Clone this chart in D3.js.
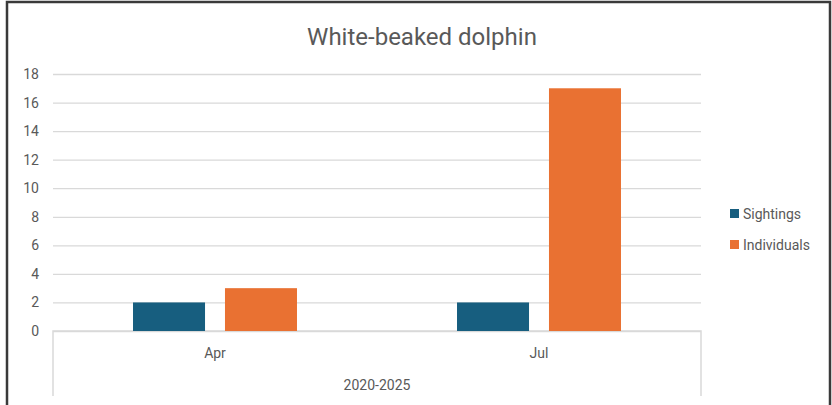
<!DOCTYPE html>
<html>
<head>
<meta charset="utf-8">
<script src="https://cdn.jsdelivr.net/npm/d3@7"></script>
<style>
  body { margin: 0; background: #fff; }
  text { font-family: Roboto, "Open Sans", sans-serif; fill: #595959; }
</style>
</head>
<body>
<div class="chart"></div>
<script>
const months = ["Apr", "Jul"];
const series = ["Sightings", "Individuals"];
const sightings = [2, 2];
const individuals = [3, 17];
const yTicks = [0, 2, 4, 6, 8, 10, 12, 14, 16, 18];
const groupLabel = "2020-2025";
const colors = ["#175e7f", "#e97132"];

const width = 832, height = 405;
const margin = ({top: 74, right: 131, bottom: 74, left: 53});

const svg = d3.select(".chart")
  .append("svg")
  .attr("width", width)
  .attr("height", height);

// outer frame
svg.append("rect")
  .attr("x", 7).attr("y", 2)
  .attr("width", 823).attr("height", 420)
  .attr("fill", "none")
  .attr("stroke", "#3a3a3a")
  .attr("stroke-width", 2.5);

const data = months.map((m, i) => ({month: m, values: [sightings[i], individuals[i]]}));

const xScale = d3.scaleBand()
  .domain(months)
  .range([margin.left, width - margin.right]);

const xInner = d3.scaleBand()
  .domain(series)
  .range([0, xScale.bandwidth()])
  .paddingInner(0.217)
  .paddingOuter(0.87);

const yScale = d3.scaleLinear()
  .domain([0, 18])
  .range([height - margin.bottom, margin.top]);

const yAxis = d3.axisLeft(yScale)
  .tickValues(yTicks)
  .tickSize(0)
  .tickPadding(14);

const yg = svg.append("g")
  .attr("transform", `translate(${margin.left},0)`)
  .call(yAxis);
yg.select(".domain").remove();
yg.selectAll(".tick text").attr("font-size", 14).attr("fill", "#595959");
yg.selectAll(".tick line")
  .clone()
  .attr("x2", width - margin.right - margin.left)
  .attr("stroke", "#d9d9d9")
  .attr("stroke-width", 1.3);

// category axis box
const x0 = margin.left, x1 = width - margin.right, y0 = yScale(0);
svg.append("path")
  .attr("d", `M${x0},${height - 9}V${y0}H${x1}V${height - 9}`)
  .attr("fill", "none")
  .attr("stroke", "#d9d9d9")
  .attr("stroke-width", 1.5);

svg.append("g")
  .selectAll("g")
  .data(data)
  .join("g")
  .attr("transform", d => `translate(${xScale(d.month)},0)`)
  .selectAll("rect")
  .data(d => d.values.map((v, i) => ({key: series[i], value: v, i})))
  .join("rect")
  .attr("x", d => xInner(d.key))
  .attr("width", xInner.bandwidth())
  .attr("y", d => yScale(d.value))
  .attr("height", d => yScale(0) - yScale(d.value))
  .attr("fill", d => colors[d.i]);

svg.append("g")
  .selectAll("text")
  .data(months)
  .join("text")
  .attr("x", d => xScale(d) + xScale.bandwidth() / 2)
  .attr("y", 358)
  .attr("text-anchor", "middle")
  .attr("font-size", 14)
  .text(d => d);

svg.append("text")
  .attr("x", (x0 + x1) / 2)
  .attr("y", 390)
  .attr("text-anchor", "middle")
  .attr("font-size", 14)
  .text(groupLabel);

svg.append("text")
  .attr("x", 422)
  .attr("y", 45)
  .attr("text-anchor", "middle")
  .attr("font-size", 24)
  .text("White-beaked dolphin");

const legend = svg.append("g")
  .selectAll("g")
  .data(series)
  .join("g")
  .attr("transform", (d, i) => `translate(730,${214 + i * 31})`);
legend.append("rect")
  .attr("x", 0).attr("y", -5)
  .attr("width", 9).attr("height", 9)
  .attr("fill", (d, i) => colors[i]);
legend.append("text")
  .attr("x", 13)
  .attr("y", 0)
  .attr("dy", "0.35em")
  .attr("font-size", 14)
  .text(d => d);
</script>
</body>
</html>
